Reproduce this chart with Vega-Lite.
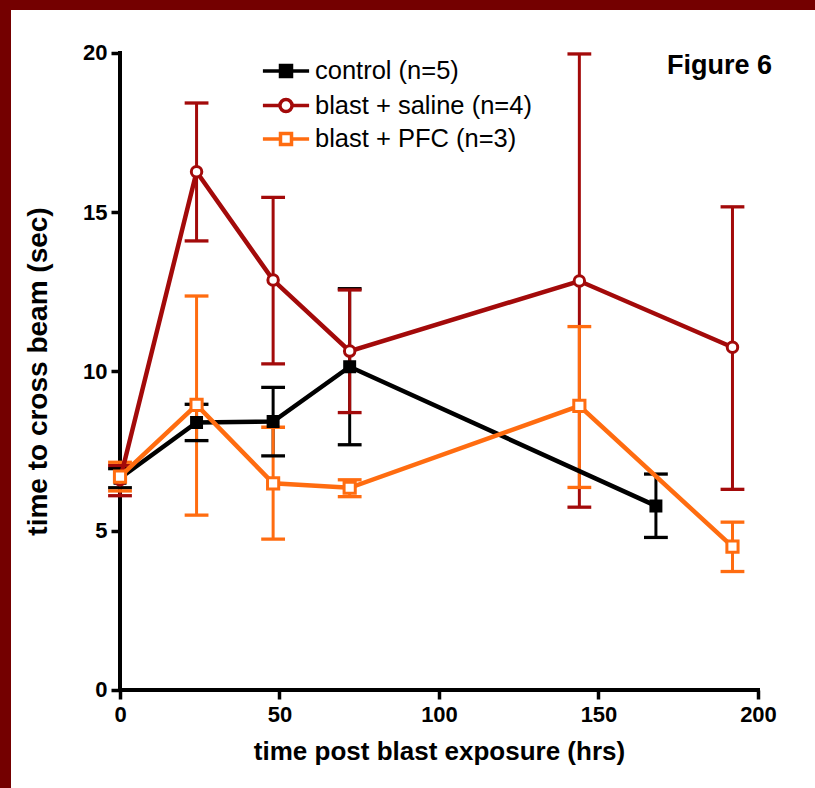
{
  "$schema": "https://vega.github.io/schema/vega-lite/v6.json",
  "width": 804,
  "height": 778,
  "autosize": {"type": "none"},
  "padding": {"left": 11, "top": 10, "right": 0, "bottom": 0},
  "background": "#740000",
  "view": {"fill": "white", "stroke": null},
  "config": {"font": "Liberation Sans"},
  "title": {"text": "Figure 6", "anchor": "end", "orient": "top", "frame": "group", "offset": -91, "dx": -43, "fontSize": 27, "fontWeight": "bold", "font": "Liberation Sans", "color": "black", "baseline": "alphabetic"},
  "datasets": {
    "frame": [
      {"x": 0, "y": 0, "x2": 200, "y2": 0},
      {"x": 0, "y": 0, "x2": 0, "y2": 20}
    ],
    "obs": [
      {"series": "control (n=5)", "t": 0, "mean": 6.65, "lo": 6.35, "hi": 6.95},
      {"series": "control (n=5)", "t": 24, "mean": 8.4, "lo": 7.83, "hi": 8.97},
      {"series": "control (n=5)", "t": 48, "mean": 8.43, "lo": 7.35, "hi": 9.5},
      {"series": "control (n=5)", "t": 72, "mean": 10.15, "lo": 7.7, "hi": 12.6},
      {"series": "control (n=5)", "t": 168, "mean": 5.78, "lo": 4.79, "hi": 6.78},
      {"series": "blast + saline (n=4)", "t": 0, "mean": 6.6, "lo": 6.1, "hi": 7.05},
      {"series": "blast + saline (n=4)", "t": 24, "mean": 16.27, "lo": 14.1, "hi": 18.43},
      {"series": "blast + saline (n=4)", "t": 48, "mean": 12.87, "lo": 10.24, "hi": 15.47},
      {"series": "blast + saline (n=4)", "t": 72, "mean": 10.64, "lo": 8.71, "hi": 12.56},
      {"series": "blast + saline (n=4)", "t": 144, "mean": 12.84, "lo": 5.74, "hi": 19.97},
      {"series": "blast + saline (n=4)", "t": 192, "mean": 10.76, "lo": 6.3, "hi": 15.17},
      {"series": "blast + PFC (n=3)", "t": 0, "mean": 6.7, "lo": 6.25, "hi": 7.15},
      {"series": "blast + PFC (n=3)", "t": 24, "mean": 8.95, "lo": 5.49, "hi": 12.37},
      {"series": "blast + PFC (n=3)", "t": 48, "mean": 6.49, "lo": 4.74, "hi": 8.25},
      {"series": "blast + PFC (n=3)", "t": 72, "mean": 6.35, "lo": 6.07, "hi": 6.6},
      {"series": "blast + PFC (n=3)", "t": 144, "mean": 8.92, "lo": 6.36, "hi": 11.41},
      {"series": "blast + PFC (n=3)", "t": 192, "mean": 4.5, "lo": 3.72, "hi": 5.27}
    ]
  },
  "layer": [
    {
      "data": {"name": "frame"},
      "mark": {"type": "rule", "strokeWidth": 4, "color": "black", "strokeCap": "square"},
      "encoding": {
        "x": {"field": "x", "type": "quantitative", "scale": {"domain": [-34.17, 217.87], "nice": false, "zero": false},
          "axis": {"orient": "bottom", "offset": -98, "values": [0, 50, 100, 150, 200], "domain": false, "grid": false, "tickSize": 9, "tickWidth": 3.5, "tickColor": "black", "labelFont": "Liberation Sans", "labelFontSize": 22, "labelFontWeight": "bold", "labelColor": "black", "labelPadding": 5, "labelFlush": false, "labelOverlap": false, "title": "time post blast exposure (hrs)", "titleFont": "Liberation Sans", "titleFontSize": 26, "titleFontWeight": "bold", "titleColor": "black", "titlePadding": 13, "titleX": 428}},
        "x2": {"field": "x2"},
        "y": {"field": "y", "type": "quantitative", "scale": {"domain": [-3.077, 21.35], "nice": false, "zero": false},
          "axis": {"orient": "left", "offset": -109, "values": [0, 5, 10, 15, 20], "domain": false, "grid": false, "tickSize": 9, "tickWidth": 3.5, "tickColor": "black", "labelFont": "Liberation Sans", "labelFontSize": 22, "labelFontWeight": "bold", "labelColor": "black", "labelPadding": 4, "labelFlush": false, "labelOverlap": false, "title": "time to cross beam (sec)", "titleFont": "Liberation Sans", "titleFontSize": 28, "titleFontWeight": "bold", "titleColor": "black", "titlePadding": 30, "titleY": 361}},
        "y2": {"field": "y2"}
      }
    },
    {
      "data": {"name": "obs"},
      "layer": [
        {
          "mark": {"type": "rule", "strokeWidth": 3},
          "encoding": {
            "x": {"field": "t", "type": "quantitative"},
            "y": {"field": "lo", "type": "quantitative"},
            "y2": {"field": "hi"},
            "color": {"field": "series", "type": "nominal",
              "scale": {"domain": ["control (n=5)", "blast + saline (n=4)", "blast + PFC (n=3)"], "range": ["#000000", "#a30a0a", "#ff6c10"]}}
          }
        },
        {
          "mark": {"type": "tick", "orient": "horizontal", "size": 21, "thickness": 0.5, "filled": false, "strokeWidth": 2.8, "opacity": 1},
          "encoding": {
            "x": {"field": "t", "type": "quantitative"},
            "y": {"field": "lo", "type": "quantitative"},
            "color": {"field": "series", "type": "nominal"}
          }
        },
        {
          "mark": {"type": "tick", "orient": "horizontal", "size": 21, "thickness": 0.5, "filled": false, "strokeWidth": 2.8, "opacity": 1},
          "encoding": {
            "x": {"field": "t", "type": "quantitative"},
            "y": {"field": "hi", "type": "quantitative"},
            "color": {"field": "series", "type": "nominal"}
          }
        },
        {
          "mark": {"type": "line", "strokeWidth": 4.5},
          "encoding": {
            "x": {"field": "t", "type": "quantitative"},
            "y": {"field": "mean", "type": "quantitative"},
            "color": {"field": "series", "type": "nominal"},
            "detail": {"field": "series"}
          }
        },
        {
          "transform": [{"filter": "datum.series === 'control (n=5)'"}],
          "mark": {"type": "point", "shape": "square", "filled": true, "fill": "#000000", "stroke": "#000000", "strokeWidth": 2, "size": 120, "opacity": 1},
          "encoding": {
            "x": {"field": "t", "type": "quantitative"},
            "y": {"field": "mean", "type": "quantitative"}
          }
        },
        {
          "transform": [{"filter": "datum.series === 'blast + saline (n=4)'"}],
          "mark": {"type": "point", "shape": "circle", "filled": false, "fill": "#ffffff", "stroke": "#a30a0a", "strokeWidth": 3, "size": 110, "opacity": 1},
          "encoding": {
            "x": {"field": "t", "type": "quantitative"},
            "y": {"field": "mean", "type": "quantitative"}
          }
        },
        {
          "transform": [{"filter": "datum.series === 'blast + PFC (n=3)'"}],
          "mark": {"type": "point", "shape": "square", "filled": false, "fill": "#ffffff", "stroke": "#ff6c10", "strokeWidth": 3, "size": 125, "opacity": 1},
          "encoding": {
            "x": {"field": "t", "type": "quantitative"},
            "y": {"field": "mean", "type": "quantitative"}
          }
        },
        {
          "transform": [{"filter": "false"}],
          "mark": {"type": "point", "filled": false, "fill": "#ffffff", "strokeWidth": 3.5, "opacity": 1},
          "encoding": {
            "x": {"field": "t", "type": "quantitative"},
            "y": {"field": "mean", "type": "quantitative"},
            "color": {"field": "series", "type": "nominal",
              "legend": {"title": null, "orient": "none", "legendX": 262, "legendY": 48, "padding": 0, "rowPadding": 6.5, "symbolSize": 484, "symbolStrokeWidth": 3.5, "symbolOpacity": 1, "symbolFillColor": "#ffffff", "labelOffset": 16, "labelFont": "Liberation Sans", "labelFontSize": 25.5, "labelColor": "black", "labelLimit": 400}},
            "shape": {"field": "series", "type": "nominal", "scale": {"domain": ["control (n=5)", "blast + saline (n=4)", "blast + PFC (n=3)"], "range": ["M-2.1,0H-0.5M0.5,0H2.1M-0.5,-0.5H0.5V0.5H-0.5ZM-0.5,-0.25H0.5M-0.5,0H0.5M-0.5,0.25H0.5", "M-2.1,0H-0.55M0.55,0H2.1M0.55,0A0.55,0.55,0,1,1,-0.55,0A0.55,0.55,0,1,1,0.55,0Z", "M-2.1,0H-0.5M0.5,0H2.1M-0.5,-0.5H0.5V0.5H-0.5Z"]}}
          }
        }
      ]
    }
  ]
}
